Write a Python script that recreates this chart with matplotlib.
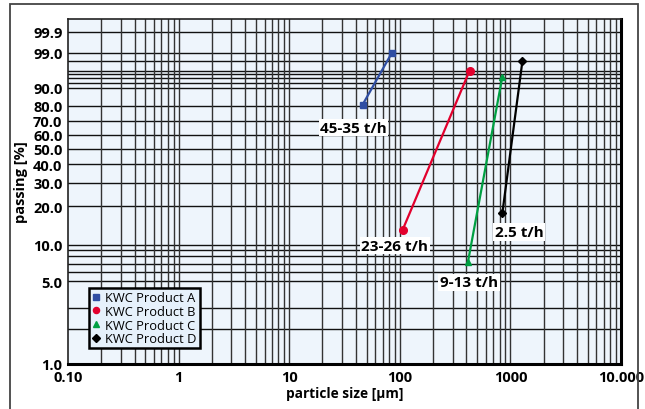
import numpy as np
import matplotlib
matplotlib.use("Agg")
import matplotlib.pyplot as plt
from matplotlib.patches import Rectangle

plt.rcParams['font.family'] = ['Open Sans', 'DejaVu Sans']

# data (particle size in um, passing in %)
names = ['KWC Product A', 'KWC Product B', 'KWC Product C', 'KWC Product D']
size_a = [46, 85]
pass_a = [80.7, 99.0]
size_b = [106, 427]
pass_b = [13.1, 96.0]
size_c = [413, 846]
pass_c = [7.2, 94.3]
size_d = [846, 1285]
pass_d = [17.8, 98.0]
rates = ['45-35 t/h', '23-26 t/h', '9-13 t/h', '2.5 t/h']

yticks = [1, 5, 10, 20, 30, 40, 50, 60, 70, 80, 90, 99, 99.9]
ylabels = ['1.0', '5.0', '10.0', '20.0', '30.0', '40.0', '50.0', '60.0',
           '70.0', '80.0', '90.0', '99.0', '99.9']
ygrid = [2, 3, 5, 6, 7, 8, 9, 10, 20, 30, 40, 50, 60, 70, 80, 90,
         92, 94, 95, 96, 98, 99, 99.9]
xticks = [0.1, 1, 10, 100, 1000, 10000]
xlabels = ['0.10', '1', '10', '100', '1000', '10.000']


# RRSB scale
def fwd(p):
    p = np.clip(np.asarray(p, dtype=float), 1e-6, 100 - 1e-9)
    return np.log10(-np.log(1 - p / 100.0))


def inv(y):
    return 100.0 * (1 - np.exp(-10 ** np.asarray(y, dtype=float)))


fig = plt.figure(figsize=(6.45, 4.1), dpi=100)
ax = fig.add_axes([68 / 645, 1 - 365 / 410, 553 / 645, 345 / 410])
ax.set_facecolor('#eef5fc')
ax.set_xscale('log')
ax.set_yscale('function', functions=(fwd, inv))
ax.set_xlim(0.1, 10000)
ax.set_ylim(1.0, inv(0.95))

# grid
for g in ygrid:
    ax.axhline(g, color='#111111', lw=1.0, zorder=1)
for dec in [0.1, 1, 10, 100, 1000]:
    for m in range(1, 10):
        v = dec * m
        if v > 0.1:
            ax.axvline(v, color='#333333', lw=1.0, zorder=1)

colors = ['#2f4ea3', '#e2002d', '#00a043', '#000000']
markers = ['s', 'o', '^', 'D']
msizes = [5, 5.5, 5, 4.5]
xs = [size_a, size_b, size_c, size_d]
ys = [pass_a, pass_b, pass_c, pass_d]
handles = []
for x, y, c, m, s, n in zip(xs, ys, colors, markers, msizes, names):
    ax.plot(x, y, color=c, lw=1.6, zorder=3)
    ax.plot(x, y, ls='none', marker=m, color=c, ms=s, zorder=4)
    h, = ax.plot([], [], ls='none', marker=m, color=c, ms=s * 0.8, label=n)
    handles.append(h)

offsets = [(-9, -23), (-8, -16), (1, -20), (17, -19)]
for x, y, r, off in zip(xs, ys, rates, offsets):
    ax.annotate(r, xy=(x[0], y[0]), xytext=off, textcoords='offset pixels',
                ha='center', va='center', fontsize=11, fontweight='bold',
                bbox=dict(boxstyle='square,pad=0.1', fc='white', ec='none'),
                zorder=5)

ax.set_yticks(yticks)
ax.set_yticklabels(ylabels)
ax.set_xticks(xticks)
ax.set_xticklabels(xlabels)
ax.yaxis.set_minor_locator(matplotlib.ticker.NullLocator())
ax.xaxis.set_minor_locator(matplotlib.ticker.NullLocator())
ax.tick_params(length=0, labelsize=10.5, pad=4)
for lab in ax.get_xticklabels() + ax.get_yticklabels():
    lab.set_fontweight('bold')

ax.set_ylabel('passing [%]', fontsize=10.5, fontweight='bold')
ax.yaxis.set_label_coords(-0.072, 0.53)
ax.set_xlabel('particle size [\u03bcm]', fontsize=9.8, fontweight='bold', labelpad=2)

for s in ['left', 'top']:
    ax.spines[s].set_linewidth(1.2)
    ax.spines[s].set_color('#222222')
for s in ['bottom', 'right']:
    ax.spines[s].set_linewidth(2.2)
    ax.spines[s].set_color('#000000')

leg = ax.legend(handles=handles, loc='lower left', bbox_to_anchor=(0.038, 0.045),
                fontsize=9.3, frameon=True, fancybox=False, handlelength=0.6,
                handletextpad=0.4, borderpad=0.25, labelspacing=0.05,
                borderaxespad=0)
leg.get_frame().set_edgecolor('black')
leg.get_frame().set_linewidth(1.8)
leg.get_frame().set_facecolor('#e6f1fb')
leg.get_frame().set_alpha(1)
leg.set_zorder(6)

# outer frame
fig.patches.append(Rectangle((10 / 645, -0.05), 628 / 645, 1 - 5 / 410 + 0.05,
                             transform=fig.transFigure, fill=False,
                             ec='#444444', lw=1.3))

fig.savefig('out.png', dpi=100)
